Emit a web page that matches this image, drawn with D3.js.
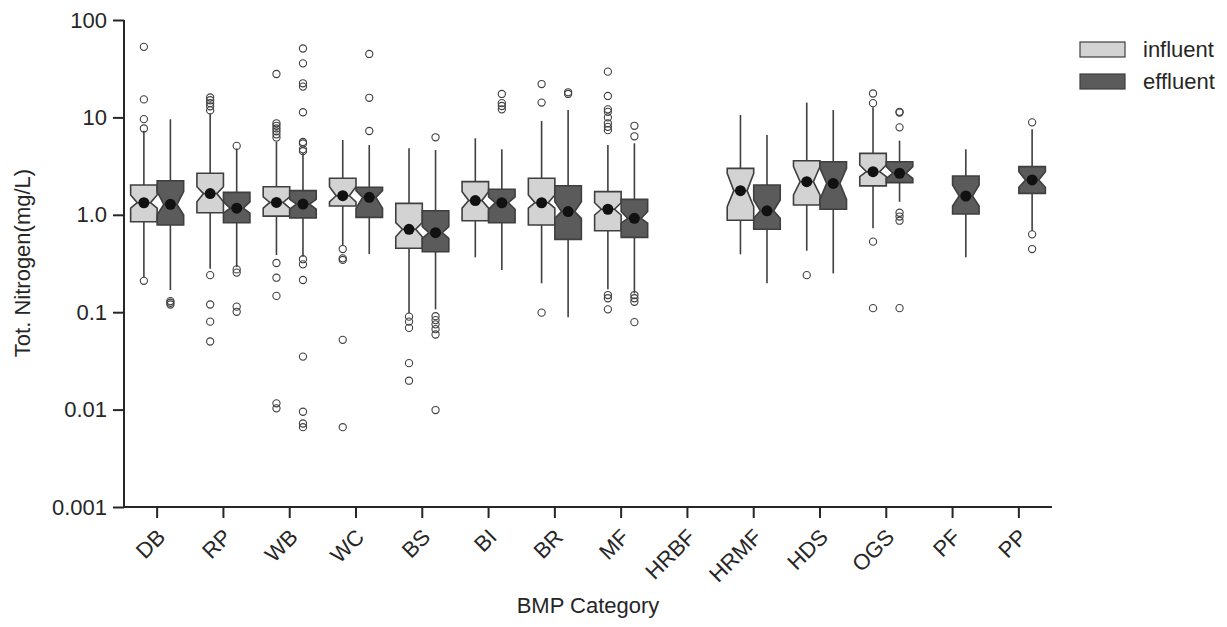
<!DOCTYPE html>
<html><head><meta charset="utf-8">
<script src="https://cdn.jsdelivr.net/npm/d3@7"></script>
<style>body{margin:0;background:#fff}svg{display:block}text{font-family:"Liberation Sans",Arial,sans-serif;fill:#262626}</style>
</head><body>
<svg id="c" width="1227" height="627"></svg>
<script>
const categories = ["DB","RP","WB","WC","BS","BI","BR","MF","HRBF","HRMF","HDS","OGS","PF","PP"];
const seriesNames = ["influent","effluent"];
const yTickValues = [0.001,0.01,0.1,1,10,100];
const yTickLabels = ["0.001","0.01","0.1","1.0","10","100"];

// influent statistics (null = no data)
const infWhiskerLo = [0.23,0.28,0.386,0.49,0.0975,0.366,0.198,0.172,null,0.393,0.428,0.726,null,null];
const infQ1        = [0.85,1.05,0.97,1.23,0.453,0.87,0.786,0.687,null,0.88,1.26,1.98,null,null];
const infNotchLo   = [1.17,1.36,1.17,1.36,0.596,1.17,1.17,0.995,null,1.21,1.6,2.46,null,null];
const infMedian    = [1.33,1.65,1.34,1.57,0.71,1.4,1.33,1.14,null,1.77,2.19,2.77,null,null];
const infNotchHi   = [1.6,1.94,1.53,1.94,0.83,1.73,1.6,1.33,null,2.67,3.12,3.25,null,null];
const infQ3        = [2.02,2.67,1.94,2.37,1.31,2.19,2.37,1.73,null,3.0,3.59,4.27,null,null];
const infWhiskerHi = [7.3,11.0,5.6,5.86,4.82,6.1,9.2,5.2,null,10.6,14.2,12.7,null,null];
const infMean      = [1.33,1.65,1.34,1.57,0.71,1.4,1.33,1.14,null,1.77,2.19,2.77,null,null];
const infFliers = [
  [53,15.3,9.6,7.7,0.21],
  [16,15,14,13,11.8,0.24,0.12,0.08,0.05],
  [27.9,8.7,8.2,7.7,7.2,6.7,6.2,0.32,0.226,0.147,0.0116,0.0103],
  [0.445,0.357,0.344,0.052,0.0066],
  [0.09,0.08,0.069,0.03,0.0198],
  [],
  [22,14.2,0.099],
  [29.5,16.6,12.1,11.4,10.0,8.7,8.0,7.4,0.15,0.139,0.107],
  [],
  [],
  [0.24],
  [17.6,14,0.53,0.11],
  [],
  []
];

// effluent statistics
const effWhiskerLo = [0.169,0.29,0.37,0.396,0.107,0.271,0.0887,0.156,null,0.198,0.25,1.36,0.366,0.687];
const effQ1        = [0.786,0.83,0.93,0.94,0.418,0.83,0.56,0.587,null,0.71,1.14,2.14,1.02,1.66];
const effNotchLo   = [0.995,1.04,1.14,1.17,0.574,1.14,0.92,0.82,null,0.92,1.44,2.37,1.23,1.92];
const effMedian    = [1.28,1.17,1.29,1.51,0.655,1.33,1.08,0.92,null,1.1,2.1,2.67,1.56,2.28];
const effNotchHi   = [1.73,1.36,1.44,1.77,0.755,1.53,1.36,1.08,null,1.42,3.0,3.12,2.02,2.77];
const effQ3        = [2.24,1.70,1.77,1.92,1.10,1.83,1.99,1.44,null,2.02,3.51,3.51,2.5,3.12];
const effWhiskerHi = [9.56,4.8,4.3,5.2,4.63,4.7,11.9,5.42,null,6.6,11.9,5.77,4.7,7.55];
const effMean      = [1.28,1.17,1.29,1.51,0.655,1.33,1.08,0.92,null,1.1,2.1,2.67,1.56,2.28];
const effFliers = [
  [0.13,0.125,0.12],
  [5.1,0.275,0.255,0.114,0.101],
  [51,35.9,22.4,20.7,11.3,5.6,5.4,4.7,4.5,0.35,0.31,0.214,0.035,0.0095,0.0072,0.0066],
  [44.8,15.9,7.25],
  [6.25,0.091,0.083,0.075,0.067,0.059,0.0099],
  [17.4,14.0,13.1,12.1],
  [18.1,17.4],
  [8.2,6.4,0.15,0.139,0.128,0.079],
  [],
  [],
  [],
  [11.4,11.2,7.9,1.05,0.96,0.87,0.11],
  [],
  [8.9,0.63,0.445]
];

const fills = {influent:"#d3d3d3", effluent:"#5b5b5b"};
const edge = "#3f3f3f";
const ink = "#262626";

const margin = {left:124, right:1227-1052, top:20, bottom:627-507};
const W = 1227, H = 627;
const svg = d3.select("#c");

const x = d3.scaleBand().domain(categories).range([124,1052]).paddingInner(0).paddingOuter(0);
const xs = d3.scaleBand().domain(seriesNames).range([x.bandwidth()*0.1, x.bandwidth()*0.9]);
const y = d3.scaleLog().domain([0.001,100]).range([507,20]);

function build(name, wl,q1,nl,med,nh,q3,wh,mean,fl){
  return categories.map((c,i)=>({cat:c, s:name, wl:wl[i],q1:q1[i],nl:nl[i],med:med[i],nh:nh[i],q3:q3[i],wh:wh[i],mean:mean[i],fl:fl[i]}));
}
const boxes = build("influent",infWhiskerLo,infQ1,infNotchLo,infMedian,infNotchHi,infQ3,infWhiskerHi,infMean,infFliers)
  .concat(build("effluent",effWhiskerLo,effQ1,effNotchLo,effMedian,effNotchHi,effQ3,effWhiskerHi,effMean,effFliers))
  .filter(d=>d.q1!=null);

const g = svg.append("g");
boxes.forEach(d=>{
  const left = x(d.cat)+xs(d.s), bw = xs.bandwidth(), right = left+bw, cx = left+bw/2;
  const capL = cx-bw/4, capR = cx+bw/4;
  // whiskers
  g.append("line").attr("x1",cx).attr("x2",cx).attr("y1",y(d.q1)).attr("y2",y(d.wl))
    .attr("stroke",edge).attr("stroke-width",1.6);
  g.append("line").attr("x1",cx).attr("x2",cx).attr("y1",y(d.q3)).attr("y2",y(d.wh))
    .attr("stroke",edge).attr("stroke-width",1.6);
  // notched box
  const pts = [[left,y(d.q1)],[right,y(d.q1)],[right,y(d.nl)],[capR,y(d.med)],[right,y(d.nh)],[right,y(d.q3)],
               [left,y(d.q3)],[left,y(d.nh)],[capL,y(d.med)],[left,y(d.nl)]];
  g.append("path").attr("d",d3.line()(pts)+"Z").attr("fill",fills[d.s]).attr("stroke",edge)
    .attr("stroke-width",1.6).attr("stroke-linejoin","miter");
  g.append("line").attr("x1",capL).attr("x2",capR).attr("y1",y(d.med)).attr("y2",y(d.med))
    .attr("stroke",edge).attr("stroke-width",1.6);
  // fliers
  d.fl.forEach(v=>{
    g.append("circle").attr("cx",cx).attr("cy",y(v)).attr("r",3.6).attr("fill","none")
      .attr("stroke",edge).attr("stroke-width",1.1);
  });
  // mean
  g.append("circle").attr("cx",cx).attr("cy",y(d.mean)).attr("r",5.5).attr("fill","#111");
});

// axes
const yAxis = d3.axisLeft(y).tickValues(yTickValues).tickFormat((v,i)=>yTickLabels[i]).tickSize(11).tickPadding(6);
const ya = svg.append("g").attr("transform","translate(124,0)").call(yAxis);
ya.select(".domain").attr("stroke",ink).attr("stroke-width",2).attr("d","M0,20V507");
ya.selectAll(".tick line").attr("stroke",ink).attr("stroke-width",2);
ya.selectAll(".tick text").attr("font-size",22).style("fill",ink).attr("font-family","Liberation Sans, Arial, sans-serif");

const xAxis = d3.axisBottom(x).tickSize(11).tickPadding(4);
const xa = svg.append("g").attr("transform","translate(0,507)").call(xAxis);
xa.select(".domain").attr("stroke",ink).attr("stroke-width",2).attr("d","M124,0H1052");
xa.selectAll(".tick line").attr("stroke",ink).attr("stroke-width",2);
xa.selectAll(".tick text").attr("font-size",22).style("fill",ink).attr("font-family","Liberation Sans, Arial, sans-serif")
  .attr("text-anchor","end").attr("dy","0.35em").attr("y",0).attr("x",0)
  .attr("transform","translate(4,26) rotate(-45)");

svg.append("text").attr("transform","translate(30,263) rotate(-90)").attr("text-anchor","middle")
  .attr("font-size",22).text("Tot. Nitrogen(mg/L)");
svg.append("text").attr("x",588).attr("y",613).attr("text-anchor","middle").attr("font-size",22).text("BMP Category");

// legend
const lg = svg.append("g");
seriesNames.forEach((s,i)=>{
  const yy = 42 + i*32;
  lg.append("rect").attr("x",1080).attr("y",yy).attr("width",45).attr("height",15)
    .attr("fill",fills[s]).attr("stroke",edge).attr("stroke-width",1.2);
  lg.append("text").attr("x",1143).attr("y",yy+15).attr("font-size",22).text(s);
});
</script>
</body></html>
